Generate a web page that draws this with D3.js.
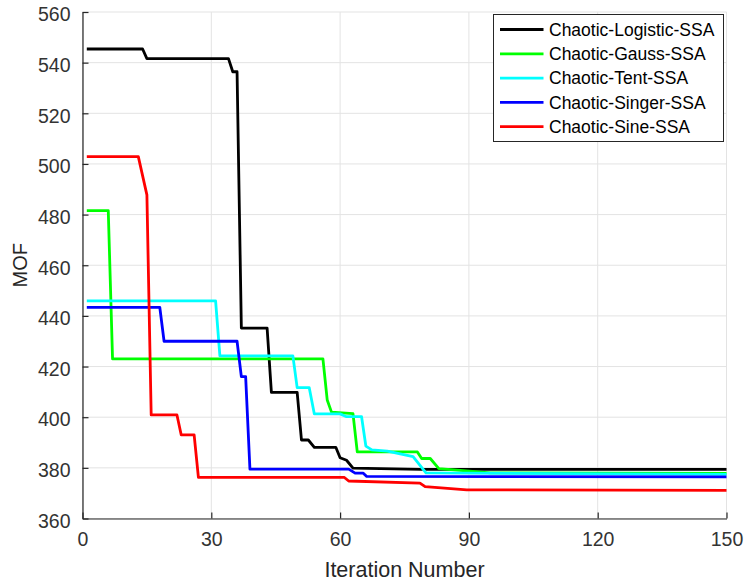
<!DOCTYPE html>
<html>
<head>
<meta charset="utf-8">
<script src="https://cdn.jsdelivr.net/npm/d3@7"></script>
<style>
  html, body { margin: 0; padding: 0; background: #fff; }
  svg { display: block; }
  text { font-family: Arial, "Liberation Sans", Helvetica, sans-serif; }
</style>
</head>
<body>
<svg id="chart" width="744" height="582"></svg>
<script>
// ---------------- data ----------------
const seriesNames = ["Chaotic-Logistic-SSA", "Chaotic-Gauss-SSA", "Chaotic-Tent-SSA", "Chaotic-Singer-SSA", "Chaotic-Sine-SSA"];
const seriesColors = ["#000000", "#00ff00", "#00ffff", "#0000ff", "#ff0000"];

const logisticX = [1, 14, 15, 34, 35, 36, 37, 43, 44, 50, 51, 52.6, 54, 59, 60, 61.5, 63, 79, 150];
const logisticY = [545.4, 545.4, 541.6, 541.6, 536.4, 536.4, 435.2, 435.2, 409.8, 409.8, 391, 391, 388.1, 388.1, 384, 383, 379.9, 379.4, 379.4];

const gaussX = [1, 6, 7, 56, 57, 58, 63, 64, 78, 79, 81, 83, 95, 150];
const gaussY = [481.6, 481.6, 423, 423, 406.8, 402, 401.4, 386.3, 386.3, 383.7, 383.7, 379.7, 378, 377.8];

const tentX = [1, 31, 32, 49, 50, 52.8, 54, 60, 61.5, 65, 66, 67.4, 71, 77, 80, 150];
const tentY = [445.9, 445.9, 424.2, 424.2, 411.7, 411.7, 401.3, 401.3, 400.2, 400.2, 388.6, 387.1, 386.6, 384.4, 378, 377.4];

const singerX = [1, 18, 19, 36, 37, 38, 39, 62, 63.5, 65.4, 66.2, 150];
const singerY = [443.4, 443.4, 430, 430, 416, 416, 379.5, 379.5, 377.9, 377.9, 376.6, 376.4];

const sineX = [1, 13, 15, 16, 22, 23, 26, 27, 61, 62, 78.6, 79.8, 89.5, 150];
const sineY = [502.9, 502.9, 487.8, 400.9, 400.9, 393, 393, 376.2, 376.2, 374.8, 374.0, 372.6, 371.3, 371.1];

const seriesX = [logisticX, gaussX, tentX, singerX, sineX];
const seriesY = [logisticY, gaussY, tentY, singerY, sineY];

const xTicks = [0, 30, 60, 90, 120, 150];
const yTicks = [360, 380, 400, 420, 440, 460, 480, 500, 520, 540, 560];
const xLabel = "Iteration Number";
const yLabel = "MOF";

// ---------------- layout ----------------
const L = 82.5, R = 726.5, T = 12, B = 518.5;
const svg = d3.select("#chart");
const x = d3.scaleLinear().domain([0, 150]).range([L, R]);
const y = d3.scaleLinear().domain([360, 560]).range([B, T]);
const axisCol = "#262626";

// grid
const grid = svg.append("g");
grid.selectAll("line.gx").data(xTicks).join("line")
  .attr("x1", d => x(d)).attr("x2", d => x(d)).attr("y1", T).attr("y2", B)
  .attr("stroke", "#e3e3e3").attr("stroke-width", 1);
grid.selectAll("line.gy").data(yTicks).join("line")
  .attr("y1", d => y(d)).attr("y2", d => y(d)).attr("x1", L).attr("x2", R)
  .attr("stroke", "#e3e3e3").attr("stroke-width", 1);

// lines
const line = d3.line().x(d => x(d[0])).y(d => y(d[1]));
seriesNames.forEach((name, i) => {
  const pts = seriesX[i].map((v, j) => [v, seriesY[i][j]]);
  svg.append("path").datum(pts)
    .attr("d", line)
    .attr("fill", "none")
    .attr("stroke", seriesColors[i])
    .attr("stroke-width", 2.8)
    .attr("stroke-linejoin", "round");
});

// axes
const xAxis = d3.axisBottom(x).tickValues(xTicks).tickSizeInner(-6).tickSizeOuter(0).tickPadding(14);
const yAxis = d3.axisLeft(y).tickValues(yTicks).tickSizeInner(-6).tickSizeOuter(0).tickPadding(12);
const gx = svg.append("g").attr("transform", `translate(0,${B})`).call(xAxis);
const gy = svg.append("g").attr("transform", `translate(${L},0)`).call(yAxis);
[gx, gy].forEach(g => {
  g.select(".domain").attr("stroke", axisCol).attr("stroke-width", 1.2);
  g.selectAll(".tick line").attr("stroke", axisCol).attr("stroke-width", 1.2);
  g.selectAll(".tick text").attr("fill", "#333").style("font-size", "19.5px")
    .style("font-family", "Arial, 'Liberation Sans', sans-serif");
});
gy.selectAll(".tick text").attr("dy", "0.45em");
gx.selectAll(".tick text").attr("dy", "0.71em");

// axis labels
svg.append("text").attr("x", x(75)).attr("y", 577)
  .attr("text-anchor", "middle").attr("fill", axisCol)
  .style("font-size", "21.5px").text(xLabel);
svg.append("text").attr("transform", `translate(27,${(T + B) / 2}) rotate(-90)`)
  .attr("text-anchor", "middle").attr("fill", axisCol)
  .style("font-size", "20px").text(yLabel);

// legend
const lg = svg.append("g");
lg.append("rect").attr("x", 493.5).attr("y", 14.5).attr("width", 230).attr("height", 127)
  .attr("fill", "#fff").attr("stroke", axisCol).attr("stroke-width", 1);
seriesNames.forEach((name, i) => {
  const yy = 29.5 + i * 24.3;
  lg.append("line").attr("x1", 500).attr("x2", 543.5).attr("y1", yy).attr("y2", yy)
    .attr("stroke", seriesColors[i]).attr("stroke-width", 2.8);
  lg.append("text").attr("x", 549).attr("y", yy).attr("dy", "0.36em")
    .attr("fill", "#000").style("font-size", "17.5px").text(name);
});
</script>
</body>
</html>
